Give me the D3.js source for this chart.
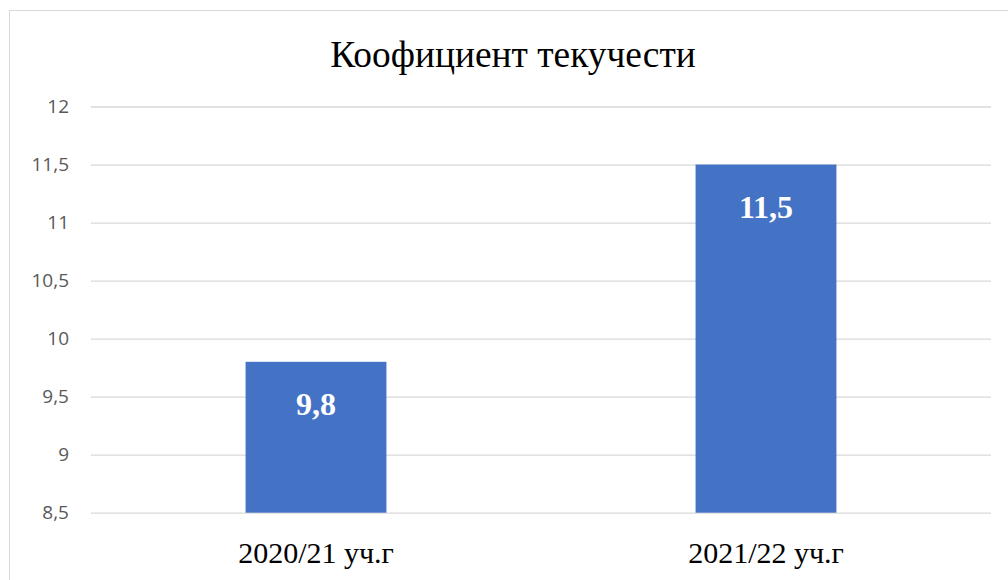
<!DOCTYPE html>
<html>
<head>
<meta charset="utf-8">
<script src="https://cdn.jsdelivr.net/npm/d3@7"></script>
<style>
  html, body { margin: 0; padding: 0; background: #fff; }
  svg { display: block; }
</style>
</head>
<body>
<div id="chart"></div>
<script>
const title = "Коофициент текучести";
const categories = ["2020/21 уч.г", "2021/22 уч.г"];
const values = [9.8, 11.5];
const yTicks = [8.5, 9, 9.5, 10, 10.5, 11, 11.5, 12];

const width = 1008;
const height = 580;
const plot = { left: 91, right: 991, top: 106.5, bottom: 512.7 };

const svg = d3.select("#chart")
  .append("svg")
  .attr("width", width)
  .attr("height", height);

// chart area outline (extends past the window on the right and bottom)
svg.append("rect")
  .attr("x", 9.5)
  .attr("y", 10.5)
  .attr("width", 1020)
  .attr("height", 600)
  .attr("fill", "#fff")
  .attr("stroke", "#d9d9d9")
  .attr("stroke-width", 1);

const x = d3.scaleBand()
  .domain(categories)
  .range([plot.left, plot.right])
  .paddingInner(0.687)
  .paddingOuter(0.3435);

const y = d3.scaleLinear()
  .domain([8.5, 12])
  .range([plot.bottom, plot.top]);

const fmt = (v) => String(v).replace(".", ",");

// gridlines + tick labels
const yAxis = d3.axisLeft(y)
  .tickValues(yTicks)
  .tickSize(-(plot.right - plot.left))
  .tickPadding(22)
  .tickFormat(fmt);

svg.append("g")
  .attr("transform", `translate(${plot.left},0)`)
  .call(yAxis)
  .call((g) => g.select(".domain").remove())
  .call((g) => g.selectAll(".tick line").attr("stroke", "#d9d9d9").attr("stroke-width", 1.3))
  .call((g) => g.selectAll(".tick text")
    .attr("fill", "#595959")
    .attr("font-family", "'Open Sans', 'Liberation Sans', sans-serif")
    .attr("font-size", 19));

// bars
svg.append("g")
  .selectAll("rect")
  .data(values)
  .join("rect")
  .attr("x", (d, i) => x(categories[i]))
  .attr("y", (d) => y(d))
  .attr("width", x.bandwidth())
  .attr("height", (d) => y(8.5) - y(d))
  .attr("fill", "#4472c4");

// data labels
svg.append("g")
  .selectAll("text")
  .data(values)
  .join("text")
  .attr("x", (d, i) => x(categories[i]) + x.bandwidth() / 2)
  .attr("y", (d) => y(d) + 53)
  .attr("text-anchor", "middle")
  .attr("fill", "#fff")
  .attr("font-family", "'Liberation Serif', 'Times New Roman', serif")
  .attr("font-weight", "bold")
  .attr("font-size", 32)
  .text(fmt);

// category labels
svg.append("g")
  .selectAll("text")
  .data(categories)
  .join("text")
  .attr("x", (d) => x(d) + x.bandwidth() / 2)
  .attr("y", 562.5)
  .attr("text-anchor", "middle")
  .attr("fill", "#000")
  .attr("font-family", "'Liberation Serif', 'Times New Roman', serif")
  .attr("font-size", 30)
  .text((d) => d);

// title
svg.append("text")
  .attr("x", 513)
  .attr("y", 66.5)
  .attr("text-anchor", "middle")
  .attr("fill", "#000")
  .attr("font-family", "'Liberation Serif', 'Times New Roman', serif")
  .attr("font-size", 37.4)
  .text(title);
</script>
</body>
</html>
